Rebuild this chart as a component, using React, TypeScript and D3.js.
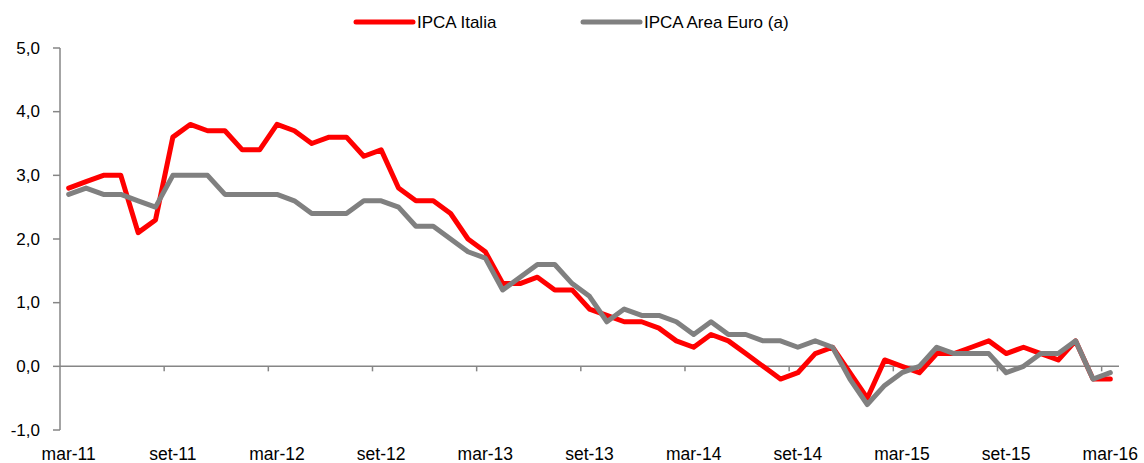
import React from 'react';
import * as d3 from 'd3';

const categories = [
  'mar-11','apr-11','mag-11','giu-11','lug-11','ago-11','set-11','ott-11','nov-11','dic-11',
  'gen-12','feb-12','mar-12','apr-12','mag-12','giu-12','lug-12','ago-12','set-12','ott-12','nov-12','dic-12',
  'gen-13','feb-13','mar-13','apr-13','mag-13','giu-13','lug-13','ago-13','set-13','ott-13','nov-13','dic-13',
  'gen-14','feb-14','mar-14','apr-14','mag-14','giu-14','lug-14','ago-14','set-14','ott-14','nov-14','dic-14',
  'gen-15','feb-15','mar-15','apr-15','mag-15','giu-15','lug-15','ago-15','set-15','ott-15','nov-15','dic-15',
  'gen-16','feb-16','mar-16',
];

const ipcaItalia = [
  2.8, 2.9, 3.0, 3.0, 2.1, 2.3, 3.6, 3.8, 3.7, 3.7,
  3.4, 3.4, 3.8, 3.7, 3.5, 3.6, 3.6, 3.3, 3.4, 2.8, 2.6, 2.6,
  2.4, 2.0, 1.8, 1.3, 1.3, 1.4, 1.2, 1.2, 0.9, 0.8, 0.7, 0.7,
  0.6, 0.4, 0.3, 0.5, 0.4, 0.2, 0.0, -0.2, -0.1, 0.2, 0.3, -0.1,
  -0.5, 0.1, 0.0, -0.1, 0.2, 0.2, 0.3, 0.4, 0.2, 0.3, 0.2, 0.1,
  0.4, -0.2, -0.2,
];

const ipcaEuro = [
  2.7, 2.8, 2.7, 2.7, 2.6, 2.5, 3.0, 3.0, 3.0, 2.7,
  2.7, 2.7, 2.7, 2.6, 2.4, 2.4, 2.4, 2.6, 2.6, 2.5, 2.2, 2.2,
  2.0, 1.8, 1.7, 1.2, 1.4, 1.6, 1.6, 1.3, 1.1, 0.7, 0.9, 0.8,
  0.8, 0.7, 0.5, 0.7, 0.5, 0.5, 0.4, 0.4, 0.3, 0.4, 0.3, -0.2,
  -0.6, -0.3, -0.1, 0.0, 0.3, 0.2, 0.2, 0.2, -0.1, 0.0, 0.2, 0.2,
  0.4, -0.2, -0.1,
];

const yTicks = [-1, 0, 1, 2, 3, 4, 5];
const xTickLabels = ['mar-11','set-11','mar-12','set-12','mar-13','set-13','mar-14','set-14','mar-15','set-15','mar-16'];
const seriesNames = ['IPCA Italia', 'IPCA Area Euro (a)'];
const seriesColors = ['#ff0000', '#808080'];

const W = 1144;
const H = 463;
const left = 60;
const right = 1119;
const top = 48;
const bottom = 430;
const FONT = '"Liberation Sans", Arial, sans-serif';
const AXIS = '#868686';

export default function App() {
  const x = d3.scaleBand<string>().domain(categories).range([left, right]).padding(0);
  const y = d3.scaleLinear().domain([-1, 5]).range([bottom, top]);
  const cx = (c: string) => (x(c) as number) + x.bandwidth() / 2;
  const line = d3
    .line<number>()
    .x((_, i) => cx(categories[i]))
    .y((d) => y(d));
  const fmt = (v: number) => d3.format('.1f')(v).replace('.', ',').replace('−', '-');
  const series = [ipcaItalia, ipcaEuro];
  const tickCats = categories.filter((_, i) => i % 6 === 0 && i > 0);
  const legendX = [356, 583];

  return (
    <svg width={W} height={H} style={{ position: 'absolute', left: 0, top: 0, background: '#fff' }} fontFamily={FONT}>
      {/* y axis */}
      <line x1={left} x2={left} y1={top} y2={bottom} stroke={AXIS} strokeWidth={1.5} />
      {yTicks.map((t) => (
        <g key={t}>
          <line x1={left - 7} x2={left} y1={y(t)} y2={y(t)} stroke={AXIS} strokeWidth={1.5} />
          <text x={40} y={y(t)} textAnchor="end" dominantBaseline="central" fontSize={17} fill="#000">
            {fmt(t)}
          </text>
        </g>
      ))}
      {/* x axis at zero */}
      <line x1={left} x2={right} y1={y(0)} y2={y(0)} stroke={AXIS} strokeWidth={1.5} />
      {tickCats.map((c) => (
        <line key={c} x1={x(c) as number} x2={x(c) as number} y1={y(0)} y2={y(0) + 5} stroke={AXIS} strokeWidth={1.5} />
      ))}
      {xTickLabels.map((l) => (
        <text key={l} x={cx(l)} y={460} textAnchor="middle" fontSize={17.5} fill="#000">
          {l}
        </text>
      ))}
      {/* series */}
      {series.map((s, k) => (
        <path
          key={k}
          d={line(s) as string}
          fill="none"
          stroke={seriesColors[k]}
          strokeWidth={5}
          strokeLinejoin="round"
          strokeLinecap="round"
        />
      ))}
      {/* legend */}
      {seriesNames.map((n, k) => (
        <g key={n}>
          <line x1={legendX[k]} x2={legendX[k] + 57} y1={22} y2={22} stroke={seriesColors[k]} strokeWidth={5} strokeLinecap="round" />
          <text x={legendX[k] + 61} y={22} dominantBaseline="central" fontSize={17} fill="#000">
            {n}
          </text>
        </g>
      ))}
    </svg>
  );
}
